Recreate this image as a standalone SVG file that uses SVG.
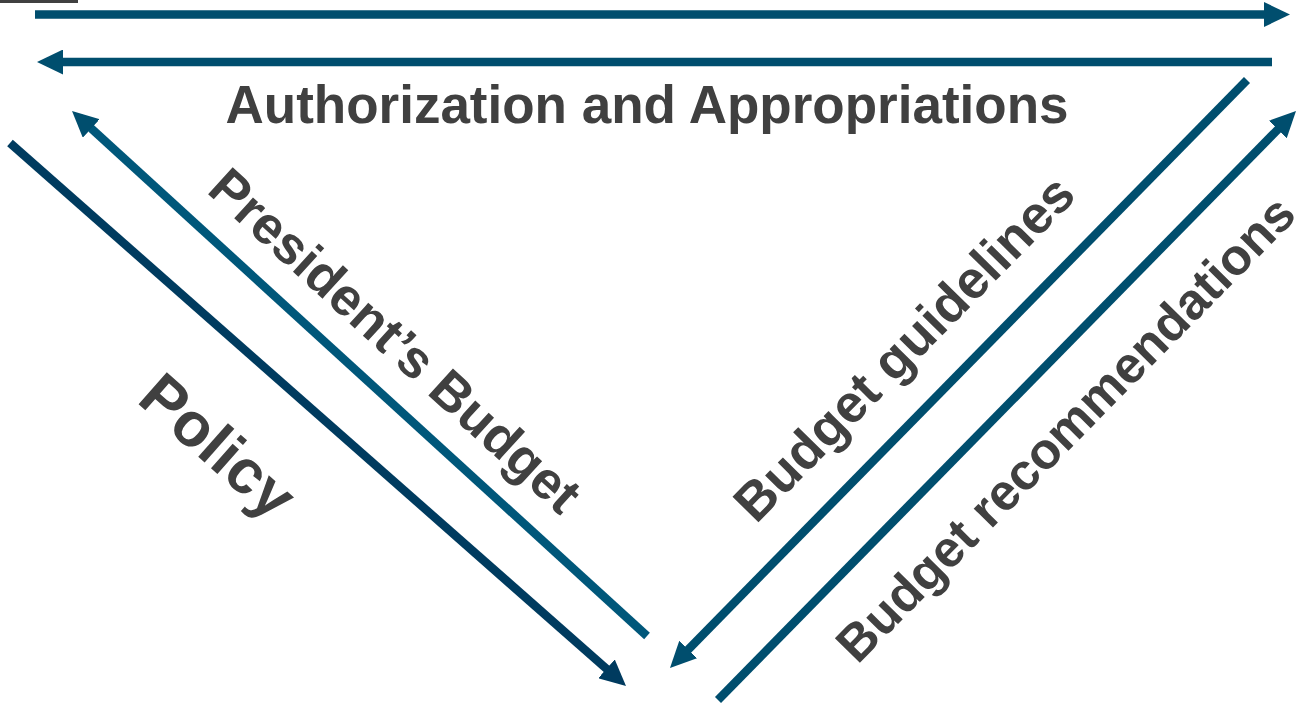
<svg xmlns="http://www.w3.org/2000/svg" width="1307" height="706" viewBox="0 0 1307 706">
<style>
.lbl{font-family:"Liberation Sans",Arial,sans-serif;font-weight:bold;fill:#404040;text-anchor:middle}
.ln{stroke:#004e6e;stroke-width:8.5;fill:none}
</style>
<defs>
<marker id="ah" markerUnits="userSpaceOnUse" markerWidth="26" markerHeight="25" refX="16" refY="12.5" orient="auto" viewBox="0 0 26 25">
<path d="M0,0 L26,12.5 L0,25 Z" fill="#004e6e"/>
</marker>
<marker id="ahd" markerUnits="userSpaceOnUse" markerWidth="26" markerHeight="25" refX="16" refY="12.5" orient="auto" viewBox="0 0 26 25">
<path d="M0,0 L26,12.5 L0,25 Z" fill="#003b5f"/>
</marker>
</defs>
<rect x="0" y="0" width="78" height="3" fill="#404040"/>
<g id="connectors">
<line class="ln" x1="35" y1="14.5" x2="1280" y2="14.5" marker-end="url(#ah)"/>
<line class="ln" x1="1272" y1="62" x2="47" y2="62" marker-end="url(#ah)"/>
<line class="ln" x1="647" y1="636" x2="79.4" y2="117.7" marker-end="url(#ah)" style="stroke:#00577a"/>
<line class="ln" x1="10" y1="143" x2="618.5" y2="679.4" style="stroke:#003b5f" marker-end="url(#ahd)"/>
<line class="ln" x1="1247" y1="80" x2="677" y2="660.9" marker-end="url(#ah)"/>
<line class="ln" x1="718" y1="700" x2="1289" y2="118.1" marker-end="url(#ah)"/>
</g>
<g id="authorization">
<text class="lbl" x="647" y="123" font-size="53">Authorization and Appropriations</text>
</g>
<g id="presidents-budget">
<text class="lbl" font-size="53" transform="translate(383,354) rotate(42.4)">President’s Budget</text>
</g>
<g id="policy">
<text class="lbl" font-size="62" transform="translate(204,462) rotate(41.4)">Policy</text>
</g>
<g id="budget-guidelines">
<text class="lbl" font-size="53" transform="translate(917,361) rotate(-45.5)">Budget guidelines</text>
</g>
<g id="budget-recommendations">
<text class="lbl" font-size="51" transform="translate(1078,441) rotate(-45.5)">Budget recommendations</text>
</g>
</svg>
